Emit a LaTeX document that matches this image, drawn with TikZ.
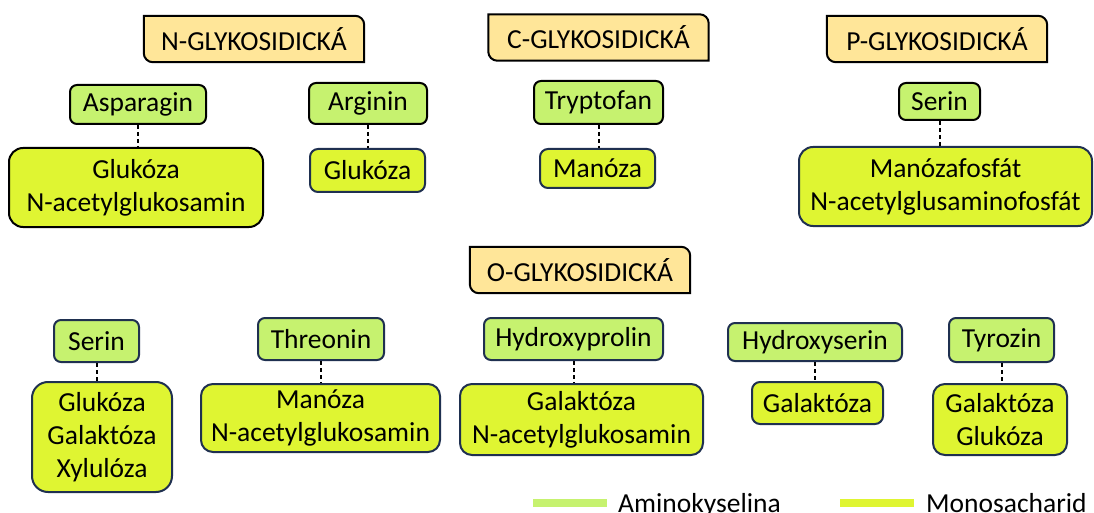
\documentclass[tikz,border=0pt]{standalone}
\usepackage{fontspec}
\setmainfont{Carlito}
\usepackage{tikz}
\usetikzlibrary{backgrounds}
\usepackage{xcolor}
\definecolor{aminofill}{HTML}{C6F26F}
\definecolor{sugarfill}{HTML}{DFF532}
\definecolor{headfill}{HTML}{FFE699}
\definecolor{frame}{HTML}{1F3050}

\begin{document}
\begin{tikzpicture}[x=1pt,y=-1pt,
  every node/.style={font=\fontsize{27.5}{33}\selectfont, align=center, inner sep=0pt},
  head/.style={minimum width=220pt, minimum height=46pt},
  amino/.style={draw=frame, fill=aminofill, line width=2pt, rounded corners=7pt},
  sugar/.style={draw=frame, fill=sugarfill, line width=2pt, rounded corners=8pt},
  bond/.style={line width=2pt, dash pattern=on 4pt off 3pt},
  headline/.style={draw=black, fill=headfill, line width=2pt},
  swatch/.style={line width=8pt}]
  \useasboundingbox (0,0) rectangle (1094,513);
  % headers
  \node[head] (nglyk) at (254,39) {N-GLYKOSIDICKÁ};
  \node[head] (cglyk) at (598.5,37.5) {C-GLYKOSIDICKÁ};
  \node[head] (pglyk) at (937,39) {P-GLYKOSIDICKÁ};
  \node[head] (oglyk) at (580,270) {O-GLYKOSIDICKÁ};
  \begin{scope}[on background layer]
    \foreach \h in {nglyk,cglyk,pglyk,oglyk}
      \draw[headline] (\h.north east) [sharp corners] -- (\h.south east)
        [rounded corners=9pt] -- (\h.south west) [sharp corners] -- (\h.north west)
        [rounded corners=9pt] -- cycle;
  \end{scope}
  % N-glykosidicka
  \node[amino, draw=black, minimum width=136pt, minimum height=39pt] (asp) at (138,104.5) {Asparagin};
  \node[sugar, draw=black, rounded corners=14pt, minimum width=254pt, minimum height=79pt] (glua) at (136,187.5) {Glukóza\\N-acetylglukosamin};
  \node[amino, draw=black, minimum width=118pt, minimum height=41pt] (arg) at (368,103.5) {Arginin};
  \node[sugar, minimum width=115pt, minimum height=43pt] (glub) at (367.5,170.5) {Glukóza};
  % C-glykosidicka
  \node[amino, draw=black, minimum width=129pt, minimum height=43pt] (try) at (598.5,102.5) {Tryptofan};
  \node[sugar, minimum width=115pt, minimum height=39pt] (mana) at (597.5,168.5) {Manóza};
  % P-glykosidicka
  \node[amino, draw=black, minimum width=81pt, minimum height=37pt] (sera) at (939.5,101.5) {Serin};
  \node[sugar, rounded corners=14pt, minimum width=293pt, minimum height=79pt] (manf) at (945.5,186.5) {Manózafosfát\\N-acetylglusaminofosfát};
  % O-glykosidicka
  \node[amino, minimum width=85pt, minimum height=42pt] (serb) at (96.5,341) {Serin};
  \node[sugar, rounded corners=16pt, minimum width=140pt, minimum height=110pt] (gluc) at (102,437) {Glukóza\\Galaktóza\\Xylulóza};
  \node[amino, minimum width=126pt, minimum height=42pt] (thr) at (321,339) {Threonin};
  \node[sugar, rounded corners=12pt, minimum width=239pt, minimum height=68pt] (manb) at (320.5,418) {Manóza\\N-acetylglukosamin};
  \node[amino, minimum width=179pt, minimum height=42pt] (hyp) at (573.5,339) {Hydroxyprolin};
  \node[sugar, rounded corners=12pt, minimum width=243pt, minimum height=71pt] (gala) at (581.5,419.5) {Galaktóza\\N-acetylglukosamin};
  \node[amino, minimum width=174pt, minimum height=38pt] (hys) at (815,342) {Hydroxyserin};
  \node[sugar, minimum width=131pt, minimum height=42pt] (galb) at (817.5,403) {Galaktóza};
  \node[amino, minimum width=105pt, minimum height=44pt] (tyr) at (1001.5,340) {Tyrozin};
  \node[sugar, rounded corners=12pt, minimum width=134pt, minimum height=71pt] (galc) at (1000,419.5) {Galaktóza\\Glukóza};
  % bonds
  \foreach \a/\s in {asp/glua,arg/glub,try/mana,sera/manf,serb/gluc,thr/manb,hyp/gala,hys/galb,tyr/galc}
    \draw[bond] (\a.south) -- (\a.south |- \s.north);
  % legend
  \node[anchor=base west] (aminolbl) at (618,512) {Aminokyselina};
  \node[anchor=base west] (sugarlbl) at (926,512) {Monosacharid};
  \draw[swatch, aminofill] (533,503) -- (607,503);
  \draw[swatch, sugarfill] (840,503) -- (914,503);
\end{tikzpicture}
\end{document}
